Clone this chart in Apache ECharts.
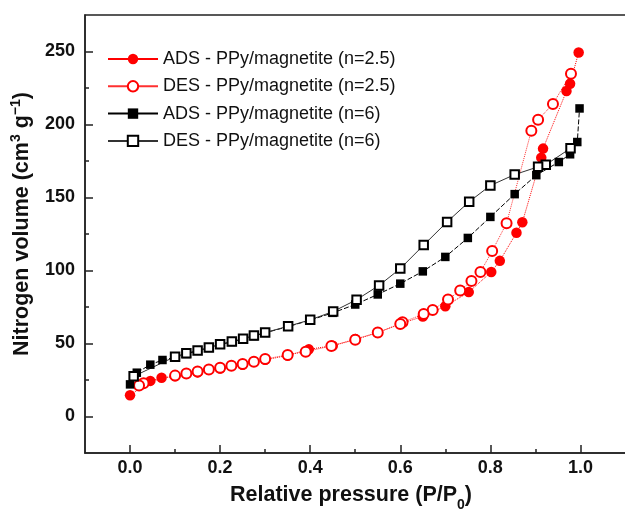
<!DOCTYPE html>
<html>
<head>
<meta charset="utf-8">
<script src="https://cdn.jsdelivr.net/npm/echarts@6/dist/echarts.min.js"></script>
<style>
html,body{margin:0;padding:0;background:#fff;}
#c{width:625px;height:510px;}
</style>
</head>
<body>
<div id="c"></div>
<script>
// ---- data ----
const seriesNames = [
  'ADS - PPy/magnetite (n=2.5)',
  'DES - PPy/magnetite (n=2.5)',
  'ADS - PPy/magnetite (n=6)',
  'DES - PPy/magnetite (n=6)'
];

const adsRedP = [0.0, 0.045, 0.07, 0.10, 0.15, 0.20, 0.25, 0.30, 0.35, 0.397, 0.45, 0.50, 0.55, 0.60, 0.65, 0.70, 0.752, 0.802, 0.821, 0.858, 0.871, 0.913, 0.917, 0.969, 0.977, 0.996];
const adsRedV = [14.5, 24.4, 26.5, 27.5, 30.2, 32.8, 35.5, 38.8, 41.8, 46.0, 48.5, 53.0, 57.5, 63.5, 68.5, 75.5, 85.2, 99.0, 106.6, 125.9, 133.0, 177.3, 183.5, 222.9, 227.9, 249.3];

const desRedP = [0.979, 0.939, 0.906, 0.891, 0.836, 0.804, 0.778, 0.758, 0.733, 0.706, 0.672, 0.652, 0.605, 0.600, 0.55, 0.50, 0.447, 0.39, 0.35, 0.30, 0.275, 0.25, 0.225, 0.20, 0.175, 0.15, 0.125, 0.10, 0.03, 0.02];
const desRedV = [234.8, 214.1, 203.2, 195.7, 132.4, 113.3, 99.0, 92.8, 86.3, 80.1, 73.0, 70.2, 64.5, 63.3, 57.5, 52.5, 48.3, 44.4, 42.2, 39.4, 37.5, 36.0, 34.8, 33.4, 32.2, 30.8, 29.5, 28.0, 22.8, 21.3];

const adsBlackP = [0.0, 0.015, 0.045, 0.072, 0.10, 0.125, 0.15, 0.175, 0.20, 0.225, 0.25, 0.275, 0.30, 0.35, 0.40, 0.45, 0.50, 0.55, 0.60, 0.65, 0.70, 0.75, 0.80, 0.854, 0.902, 0.952, 0.977, 0.993, 0.998];
const adsBlackV = [22.0, 30.0, 35.5, 38.7, 40.5, 42.8, 45.0, 47.0, 49.3, 51.0, 53.0, 55.0, 57.3, 61.5, 66.0, 71.0, 76.7, 83.6, 91.0, 99.4, 109.3, 122.3, 136.7, 152.3, 165.3, 174.3, 179.6, 188.0, 211.0];

const desBlackP = [0.978, 0.923, 0.906, 0.854, 0.80, 0.753, 0.704, 0.652, 0.60, 0.553, 0.503, 0.451, 0.40, 0.351, 0.30, 0.275, 0.251, 0.226, 0.20, 0.175, 0.15, 0.125, 0.10, 0.008];
const desBlackV = [183.7, 172.4, 171.0, 165.7, 158.2, 147.1, 133.3, 117.4, 101.3, 89.8, 80.0, 71.9, 66.2, 61.8, 57.5, 55.4, 53.3, 51.3, 49.5, 47.2, 45.2, 43.3, 41.0, 27.5];

const xMajorTicks = [0.0, 0.2, 0.4, 0.6, 0.8, 1.0];
const xMinorTicks = [0.1, 0.3, 0.5, 0.7, 0.9];
const yMajorTicks = [0, 50, 100, 150, 200, 250];
const yMinorTicks = [25, 75, 125, 175, 225];

// ---- build ----
function zip(p, v) { return p.map((x, i) => [x, v[i]]); }
const FONT = '"Liberation Sans", Arial, sans-serif';
const AXC = '#222';

const chart = echarts.init(document.getElementById('c'), null, {renderer: 'canvas'});

const xBase = {type: 'value', min: -0.1, max: 1.15, gridIndex: 0, position: 'bottom', splitLine: {show: false}};
const yBase = {type: 'value', min: -25, max: 275, gridIndex: 0, position: 'left', splitLine: {show: false}};

const option = {
  backgroundColor: '#fff',
  animation: false,
  grid: {left: 85, top: 15, width: 563, height: 438, containLabel: false, outerBoundsMode: 'none',
    show: true, borderColor: AXC, borderWidth: 1.5, backgroundColor: 'transparent'},
  legend: {
    data: seriesNames,
    orient: 'vertical',
    left: 107, top: 49,
    padding: 0,
    itemWidth: 50, itemHeight: 13, itemGap: 7.3,
    textStyle: {fontFamily: FONT, fontSize: 18, color: '#111', lineHeight: 20},
    lineStyle: {type: 'solid'}
  },
  xAxis: [
    Object.assign({}, xBase, {
      axisLine: {show: true, onZero: false, lineStyle: {color: AXC, width: 1.5}},
      axisTick: {show: true, inside: true, length: 8, customValues: xMajorTicks, lineStyle: {color: AXC, width: 1.5}},
      axisLabel: {show: true, customValues: xMajorTicks, margin: 6, formatter: v => v.toFixed(1),
        fontFamily: FONT, fontWeight: 'bold', fontSize: 18, color: '#111'}
    }),
    Object.assign({}, xBase, {
      axisLine: {show: false, onZero: false},
      axisTick: {show: true, inside: true, length: 4, customValues: xMinorTicks, lineStyle: {color: AXC, width: 1.5}},
      axisLabel: {show: false}
    })
  ],
  yAxis: [
    Object.assign({}, yBase, {
      axisLine: {show: true, onZero: false, lineStyle: {color: AXC, width: 1.5}},
      axisTick: {show: true, inside: true, length: 8, customValues: yMajorTicks, lineStyle: {color: AXC, width: 1.5}},
      axisLabel: {show: true, customValues: yMajorTicks, margin: 10,
        fontFamily: FONT, fontWeight: 'bold', fontSize: 18, color: '#111'}
    }),
    Object.assign({}, yBase, {
      axisLine: {show: false, onZero: false},
      axisTick: {show: true, inside: true, length: 4, customValues: yMinorTicks, lineStyle: {color: AXC, width: 1.5}},
      axisLabel: {show: false}
    })
  ],
  series: [
    {
      name: seriesNames[0], type: 'line', xAxisIndex: 0, yAxisIndex: 0,
      data: zip(adsRedP, adsRedV),
      symbol: 'circle', symbolSize: 10.5,
      itemStyle: {color: '#ff0000'},
      lineStyle: {color: '#ff0000', width: 1, type: 'dotted'}
    },
    {
      name: seriesNames[1], type: 'line', xAxisIndex: 0, yAxisIndex: 0,
      data: zip(desRedP, desRedV),
      symbol: 'emptyCircle', symbolSize: 10, showAllSymbol: true,
      itemStyle: {color: '#ff0000', borderColor: '#ff0000', borderWidth: 1.5},
      lineStyle: {color: '#ff3030', width: 1, type: 'dotted'}
    },
    {
      name: seriesNames[2], type: 'line', xAxisIndex: 0, yAxisIndex: 0,
      data: zip(adsBlackP, adsBlackV),
      symbol: 'rect', symbolSize: 8.5,
      itemStyle: {color: '#000'},
      lineStyle: {color: '#000', width: 1, type: [5, 2]}
    },
    {
      name: seriesNames[3], type: 'line', xAxisIndex: 0, yAxisIndex: 0,
      data: zip(desBlackP, desBlackV),
      symbol: 'emptyRect', symbolSize: 8.5,
      itemStyle: {color: '#000', borderColor: '#000', borderWidth: 1.5},
      lineStyle: {color: '#333', width: 1, type: 'solid'}
    }
  ],
  graphic: [
    {
      type: 'text', x: 351, y: 495, z: 10,
      style: {
        text: '{a|Relative pressure (P/P}{s|0}{a|)}',
        align: 'center', verticalAlign: 'middle',
        rich: {
          a: {fontFamily: FONT, fontWeight: 'bold', fontSize: 21.5, fill: '#111', lineHeight: 26, verticalAlign: 'middle'},
          s: {fontFamily: FONT, fontWeight: 'bold', fontSize: 14, fill: '#111', lineHeight: 26, verticalAlign: 'bottom', padding: [0, 0, -4, 0]}
        }
      }
    },
    {
      type: 'text', x: 22, y: 224, rotation: Math.PI / 2, z: 10,
      style: {
        text: '{a|Nitrogen volume (cm}{s|3}{a| g}{s|−1}{a|)}',
        align: 'center', verticalAlign: 'middle',
        rich: {
          a: {fontFamily: FONT, fontWeight: 'bold', fontSize: 21.5, fill: '#111', lineHeight: 26, verticalAlign: 'middle'},
          s: {fontFamily: FONT, fontWeight: 'bold', fontSize: 14, fill: '#111', lineHeight: 26, verticalAlign: 'top'}
        }
      }
    }
  ]
};
chart.setOption(option);
</script>
</body>
</html>
